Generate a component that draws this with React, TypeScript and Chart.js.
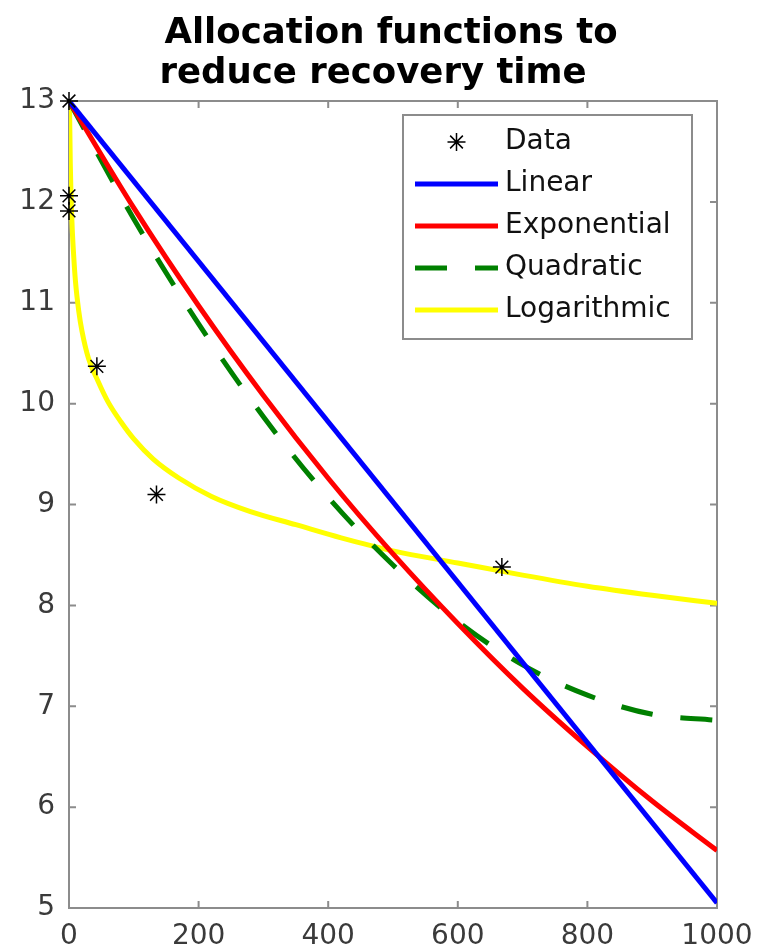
import React, { useEffect, useRef } from 'react';
import { Chart, registerables } from 'chart.js';

Chart.register(...registerables);

const TITLE_LINES = ['Allocation functions to', 'reduce recovery time'];
const X_TICKS = [0, 200, 400, 600, 800, 1000];
const Y_TICKS = [5, 6, 7, 8, 9, 10, 11, 12, 13];

const dataX = [0, 0, 0, 43, 135, 668];
const dataY = [13, 12.06, 11.91, 10.37, 9.1, 8.38];

const linearX = [0, 1000];
const linearY = [13, 5.05];

const expX = [0, 100, 200, 300, 400, 500, 600, 700, 800, 900, 1000];
const expY = [13, 11.94, 10.97, 10.08, 9.26, 8.51, 7.82, 7.18, 6.6, 6.06, 5.57];

const quadX = [0, 100, 200, 300, 400, 500, 600, 700, 800, 900, 1000];
const quadY = [13, 11.83, 10.79, 9.87, 9.07, 8.4, 7.84, 7.41, 7.11, 6.92, 6.86];

const logX = [0.8, 1, 2, 3, 5, 7, 10, 15, 20, 30, 45, 60, 80, 100, 130, 170, 220, 280, 350, 420, 500, 600, 700, 800, 900, 1000];
const logY = [13.0, 12.86, 12.38, 12.09, 11.73, 11.49, 11.21, 10.92, 10.72, 10.45, 10.22, 10.02, 9.82, 9.65, 9.45, 9.26, 9.08, 8.93, 8.8, 8.67, 8.54, 8.42, 8.3, 8.19, 8.1, 8.02];

const pts = (xs: number[], ys: number[]) => xs.map((x, i) => ({ x, y: ys[i] }));

const AXIS_COLOR = '#8c8c8c';
const TEXT_COLOR = '#3a3a3a';
const FONT = 'DejaVu Sans';

const boxPlugin = {
  id: 'boxTicks',
  beforeDatasetsDraw(chart: any) {
    const { ctx, chartArea: a, scales } = chart;
    ctx.save();
    ctx.strokeStyle = AXIS_COLOR;
    ctx.lineWidth = 2;
    ctx.strokeRect(a.left, a.top, a.right - a.left, a.bottom - a.top);
    const len = 7;
    ctx.beginPath();
    X_TICKS.forEach((v) => {
      const px = scales.x.getPixelForValue(v);
      ctx.moveTo(px, a.bottom);
      ctx.lineTo(px, a.bottom - len);
      ctx.moveTo(px, a.top);
      ctx.lineTo(px, a.top + len);
    });
    Y_TICKS.forEach((v) => {
      const py = scales.y.getPixelForValue(v);
      ctx.moveTo(a.left, py);
      ctx.lineTo(a.left + len, py);
      ctx.moveTo(a.right, py);
      ctx.lineTo(a.right - len, py);
    });
    ctx.stroke();
    ctx.restore();
  },
};

const titlePlugin = {
  id: 'twoLineTitle',
  afterDraw(chart: any) {
    const { ctx } = chart;
    ctx.save();
    ctx.fillStyle = '#000';
    ctx.font = `bold 35.5px "${FONT}"`;
    ctx.textAlign = 'center';
    ctx.textBaseline = 'alphabetic';
    ctx.fillText(TITLE_LINES[0], 391, 43);
    ctx.fillText(TITLE_LINES[1], 373, 83);
    ctx.restore();
  },
};

const legendPlugin = {
  id: 'insideLegend',
  afterDraw(chart: any) {
    const { ctx } = chart;
    const left = 403, top = 115, right = 692, bottom = 339;
    ctx.save();
    ctx.fillStyle = '#fff';
    ctx.fillRect(left, top, right - left, bottom - top);
    ctx.strokeStyle = AXIS_COLOR;
    ctx.lineWidth = 2;
    ctx.strokeRect(left, top, right - left, bottom - top);
    const rowY = [142, 184, 226, 268, 310];
    const x0 = 415, x1 = 498, tx = 505;
    chart.data.datasets.forEach((ds: any, i: number) => {
      const y = rowY[i];
      if (ds.showLine === false) {
        const cx = (x0 + x1) / 2;
        const r = ds.pointRadius;
        ctx.strokeStyle = ds.pointBorderColor;
        ctx.lineWidth = ds.pointBorderWidth;
        ctx.beginPath();
        for (let k = 0; k < 4; k++) {
          const ang = (k * Math.PI) / 4;
          ctx.moveTo(cx - r * Math.cos(ang), y - r * Math.sin(ang));
          ctx.lineTo(cx + r * Math.cos(ang), y + r * Math.sin(ang));
        }
        ctx.stroke();
      } else {
        ctx.strokeStyle = ds.borderColor;
        ctx.lineWidth = ds.borderWidth;
        ctx.setLineDash(ds.borderDash || []);
        ctx.beginPath();
        ctx.moveTo(x0, y);
        ctx.lineTo(x1, y);
        ctx.stroke();
        ctx.setLineDash([]);
      }
      ctx.fillStyle = '#111';
      ctx.font = `28px "${FONT}"`;
      ctx.textAlign = 'left';
      ctx.textBaseline = 'middle';
      ctx.fillText(ds.label, tx, y);
    });
    ctx.restore();
  },
};

export default function App() {
  const ref = useRef<HTMLCanvasElement | null>(null);
  useEffect(() => {
    document.body.style.margin = '0';
    if (!ref.current) return;
    const lineBase = { pointRadius: 0, borderWidth: 5, fill: false, showLine: true, cubicInterpolationMode: 'monotone' as const };
    const chart = new Chart(ref.current, {
      type: 'line',
      data: {
        datasets: [
          {
            label: 'Data',
            data: pts(dataX, dataY),
            showLine: false,
            pointStyle: 'star',
            pointRadius: 9,
            pointBorderColor: '#000',
            pointBackgroundColor: 'rgba(0,0,0,0)',
            pointBorderWidth: 1.5,
            borderColor: '#000',
            clip: false,
          } as any,
          { ...lineBase, label: 'Linear', data: pts(linearX, linearY), borderColor: '#0000ff' },
          { ...lineBase, label: 'Exponential', data: pts(expX, expY), borderColor: '#ff0000' },
          { ...lineBase, label: 'Quadratic', data: pts(quadX, quadY), borderColor: '#008000', borderDash: [32, 28] },
          { ...lineBase, label: 'Logarithmic', data: pts(logX, logY), borderColor: '#ffff00' },
        ],
      },
      options: {
        animation: false,
        responsive: false,
        layout: { padding: { top: 101, right: 50, left: 0, bottom: 0 } },
        plugins: { legend: { display: false }, title: { display: false }, tooltip: { enabled: false } },
        scales: {
          x: {
            type: 'linear',
            min: 0,
            max: 1000,
            grid: { display: false, drawTicks: false },
            border: { display: false },
            ticks: {
              color: TEXT_COLOR,
              font: { family: FONT, size: 28 },
              padding: 12,
              maxRotation: 0,
              autoSkip: false,
              callback: (v: any) => String(v),
            },
            afterBuildTicks: (s: any) => { s.ticks = X_TICKS.map((v) => ({ value: v })); },
            afterFit: (s: any) => { s.height = 42; },
          },
          y: {
            type: 'linear',
            min: 5,
            max: 13,
            grid: { display: false, drawTicks: false },
            border: { display: false },
            ticks: {
              color: TEXT_COLOR,
              font: { family: FONT, size: 28 },
              padding: 14,
              autoSkip: false,
              callback: (v: any) => String(v),
            },
            afterBuildTicks: (s: any) => { s.ticks = Y_TICKS.map((v) => ({ value: v })); },
            afterFit: (s: any) => { s.width = 69; },
          },
        },
      },
      plugins: [boxPlugin, titlePlugin, legendPlugin],
    });
    return () => chart.destroy();
  }, []);
  return (
    <div style={{ width: 767, height: 950, background: '#fff' }}>
      <canvas ref={ref} width={767} height={950} style={{ display: 'block' }} />
    </div>
  );
}
